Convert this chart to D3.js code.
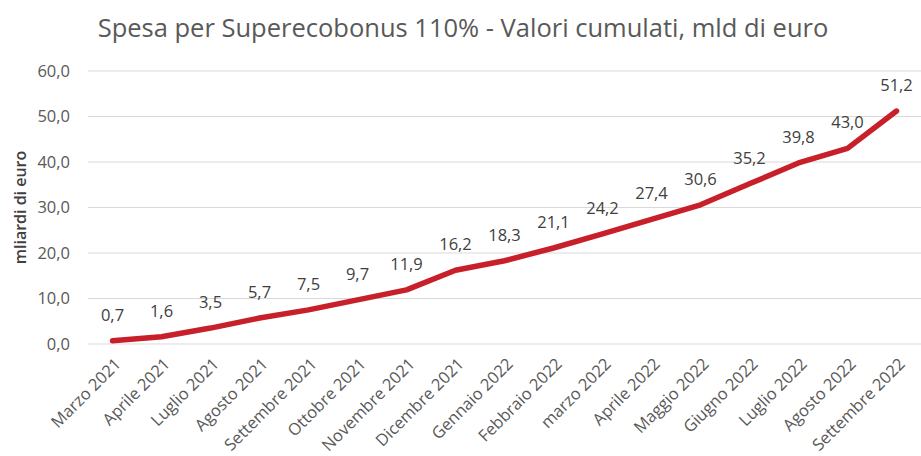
<!DOCTYPE html>
<html>
<head>
<meta charset="utf-8">
<script src="https://cdn.jsdelivr.net/npm/d3@7"></script>
<style>
  body { margin: 0; background: #fff; }
  svg text { font-family: "Open Sans", "Noto Sans", sans-serif; fill: #595959; }
</style>
</head>
<body>
<div id="chart"></div>
<script>
const months = ['Marzo 2021', 'Aprile 2021', 'Luglio 2021', 'Agosto 2021', 'Settembre 2021',
    'Ottobre 2021', 'Novembre 2021', 'Dicembre 2021', 'Gennaio 2022', 'Febbraio 2022',
    'marzo 2022', 'Aprile 2022', 'Maggio 2022', 'Giugno 2022', 'Luglio 2022',
    'Agosto 2022', 'Settembre 2022'];
const spesa = [0.7, 1.6, 3.5, 5.7, 7.5, 9.7, 11.9, 16.2, 18.3, 21.1, 24.2, 27.4, 30.6, 35.2, 39.8, 43.0, 51.2];
const yTicks = [0, 10, 20, 30, 40, 50, 60];

const svgWidth = 921, svgHeight = 456;
const margin = { top: 71, right: 0, bottom: 112, left: 88 };
const width = svgWidth - margin.left - margin.right;
const height = svgHeight - margin.top - margin.bottom;

const fmt = v => v.toFixed(1).replace('.', ',');

const svg = d3.select('#chart')
    .append('svg')
    .attr('width', svgWidth)
    .attr('height', svgHeight);

svg.append('text')
    .attr('x', 463)
    .attr('y', 37)
    .attr('text-anchor', 'middle')
    .style('font-size', '25.5px')
    .text('Spesa per Superecobonus 110% - Valori cumulati, mld di euro');

const bounds = svg.append('g')
    .attr('transform', `translate(${margin.left}, ${margin.top})`);

const xScale = d3.scalePoint()
    .domain(months)
    .range([0, width])
    .padding(0.5);

const yScale = d3.scaleLinear()
    .domain([0, 60])
    .range([height, 0]);

// grid
bounds.append('g')
    .selectAll('line')
    .data(yTicks)
    .join('line')
    .attr('x1', 0)
    .attr('x2', width)
    .attr('y1', d => yScale(d))
    .attr('y2', d => yScale(d))
    .attr('stroke', '#d9d9d9')
    .attr('stroke-width', 1);

const yAxisGroup = bounds.append('g')
    .call(d3.axisLeft(yScale)
        .tickValues(yTicks)
        .tickSize(0)
        .tickPadding(18)
        .tickFormat(fmt));
yAxisGroup.select('.domain').remove();
yAxisGroup.selectAll('text')
    .style('font-size', '16.5px')
    .attr('fill', '#595959');

const xAxisGroup = bounds.append('g')
    .attr('transform', `translate(0, ${height})`)
    .call(d3.axisBottom(xScale).tickSize(0));
xAxisGroup.select('.domain').remove();
xAxisGroup.selectAll('text')
    .style('font-size', '16.5px')
    .attr('fill', '#595959')
    .attr('text-anchor', 'end')
    .attr('dy', null)
    .attr('y', 0)
    .attr('transform', 'translate(9, 21) rotate(-45)');

svg.append('text')
    .attr('transform', `translate(26, ${margin.top + height / 2}) rotate(-90)`)
    .attr('text-anchor', 'middle')
    .style('font-size', '16px')
    .style('font-weight', '600')
    .style('fill', '#404040')
    .text('mliardi di euro');

const line = d3.line()
    .x((d, i) => xScale(months[i]))
    .y(d => yScale(d));

bounds.append('path')
    .datum(spesa)
    .attr('d', line)
    .attr('fill', 'none')
    .attr('stroke', '#c8202a')
    .attr('stroke-width', 5.5)
    .attr('stroke-linecap', 'round')
    .attr('stroke-linejoin', 'round');

bounds.selectAll('.label')
    .data(spesa)
    .join('text')
    .attr('class', 'label')
    .attr('x', (d, i) => xScale(months[i]))
    .attr('y', d => yScale(d) - 20)
    .attr('text-anchor', 'middle')
    .style('font-size', '16.5px')
    .style('fill', '#404040')
    .text(fmt);
</script>
</body>
</html>
